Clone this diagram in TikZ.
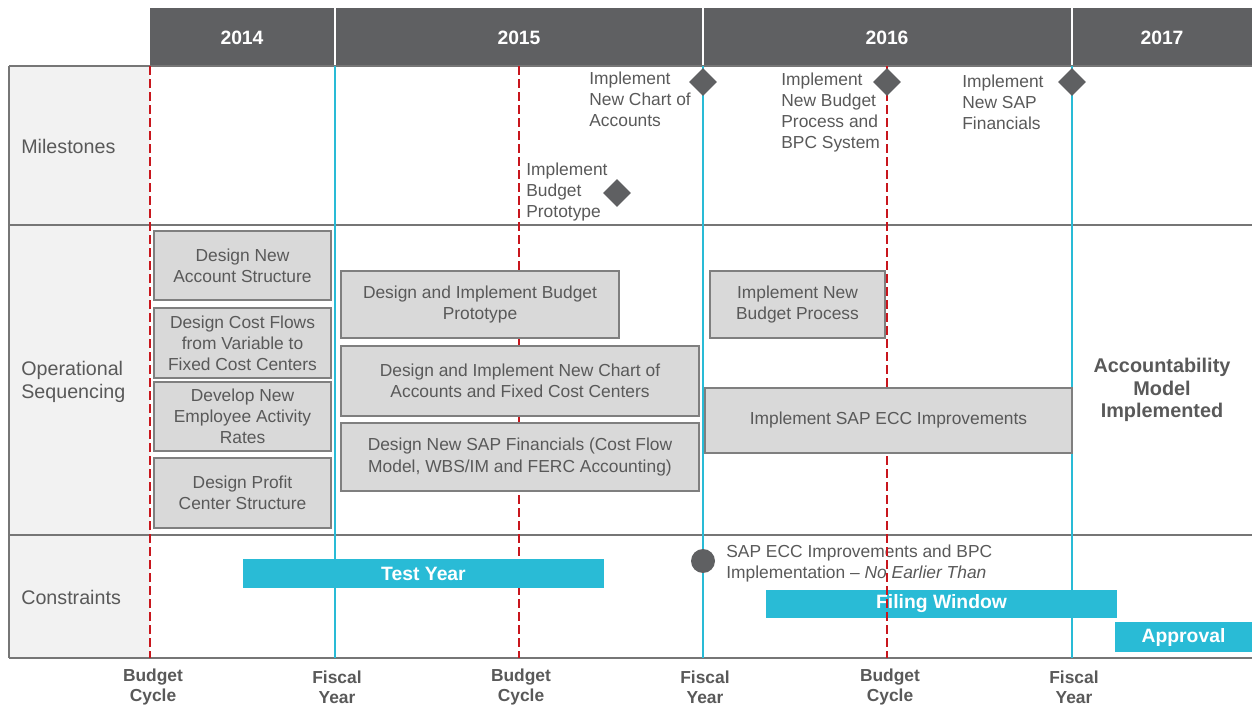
\documentclass[tikz,border=0pt]{standalone}
\usepackage{fontspec}
\setmainfont{Liberation Sans}
\usetikzlibrary{shapes.geometric}
\definecolor{hdr}{HTML}{5F6062}
\definecolor{txt}{HTML}{595959}
\definecolor{lab}{HTML}{F2F2F2}
\definecolor{rulec}{HTML}{767676}
\definecolor{bud}{HTML}{C8161D}
\definecolor{fis}{HTML}{29BBD6}
\definecolor{boxf}{HTML}{D9D9D9}
\definecolor{boxd}{HTML}{7F7F7F}
\tikzset{
  mtext/.style={text=txt, font=\fontsize{9.9}{12}\selectfont, align=left, inner sep=0pt, anchor=west},
  opbox/.style={draw=boxd, fill=boxf, line width=1pt, text=txt, font=\fontsize{9.9}{12}\selectfont, align=center, inner sep=0pt},
  bar/.style={fill=fis, text=white, font=\bfseries\fontsize{11}{13}\selectfont, inner sep=0pt},
  mile/.style={diamond, fill=hdr, minimum width=0.56cm, minimum height=0.56cm, inner sep=0pt},
  budget/.style={draw=bud, line width=1.1pt, dash pattern=on 5pt off 2.4pt},
  fiscal/.style={draw=fis, line width=0.9pt},
  rowlab/.style={text=txt, font=\fontsize{11.2}{13}\selectfont, align=left, anchor=west, inner sep=0pt},
  axlab/.style={text=txt, font=\bfseries\fontsize{9.9}{11.4}\selectfont, align=center, inner sep=0pt},
  yearlab/.style={text=white, font=\bfseries\fontsize{11}{13}\selectfont, inner sep=0pt},
  rulel/.style={draw=rulec, line width=0.9pt}
}
\begin{document}
\begin{tikzpicture}[x=0.02cm,y=-0.02cm]
\useasboundingbox (0,0) rectangle (1252,706);
% header
\fill[hdr] (150,8) rectangle (1252,66);
\foreach \x in {335,703,1072} \draw[white, line width=1pt] (\x,8) -- (\x,66);
\node[yearlab] (y14) at (242,38) {2014};
\node[yearlab] (y15) at (519,38) {2015};
\node[yearlab] (y16) at (887,38) {2016};
\node[yearlab] (y17) at (1162,38) {2017};
% label column
\fill[lab] (9,66) rectangle (150,658);
\draw[rulel] (9,66) -- (9,658);
\foreach \y in {66,225,535,658} \draw[rulel] (9,\y) -- (1252,\y);
\node[rowlab] (lm) at (21,146) {Milestones};
\node[rowlab] (lo) at (21,382) {Operational\\Sequencing};
\node[rowlab] (lc) at (21,597) {Constraints};
% time lines
\foreach \n/\x in {b1/150,b2/519,b3/887} {
  \coordinate (\n t) at (\x,66); \coordinate (\n b) at (\x,658);
}
\foreach \n/\x in {f1/335,f2/703,f3/1072} {
  \coordinate (\n t) at (\x,66); \coordinate (\n b) at (\x,658);
}
\draw[budget] (b1t) -- (b1b);
\draw[budget] (b2t) -- (b2b);
\draw[budget] (b3t) -- (b3b);
\draw[fiscal] (f1t) -- (f1b);
\draw[fiscal] (f2t) -- (f2b);
\draw[fiscal] (f3t) -- (f3b);
% milestones
\node[mtext] (m1) at (589,99) {Implement\\New Chart of\\Accounts};
\node[mtext] (m2) at (781,112.5) {Implement\\New Budget\\Process and\\BPC System};
\node[mtext] (m3) at (962,102) {Implement\\New SAP\\Financials};
\node[mtext] (m4) at (526,192) {Implement\\Budget\\Prototype};
% operational boxes
\node[opbox, minimum width=3.54cm, minimum height=1.38cm] (o1) at (242.5,265.5) {Design New\\Account Structure};
\node[opbox, minimum width=3.54cm, minimum height=1.40cm] (o2) at (242.5,343) {Design Cost Flows\\from Variable to\\Fixed Cost Centers};
\node[opbox, minimum width=3.54cm, minimum height=1.38cm] (o3) at (242.5,416.5) {Develop New\\Employee Activity\\Rates};
\node[opbox, minimum width=3.54cm, minimum height=1.40cm] (o4) at (242.5,493) {Design Profit\\Center Structure};
\node[opbox, minimum width=5.56cm, minimum height=1.34cm] (o5) at (480,304.5) {Design and Implement Budget\\Prototype};
\node[opbox, minimum width=7.16cm, minimum height=1.40cm] (o6) at (520,381) {Design and Implement New Chart of\\Accounts and Fixed Cost Centers};
\node[opbox, minimum width=7.16cm, minimum height=1.36cm] (o7) at (520,457) {Design New SAP Financials (Cost Flow\\Model, WBS/IM and FERC Accounting)};
\node[opbox, minimum width=3.50cm, minimum height=1.34cm] (o8) at (797.5,304.5) {Implement New\\Budget Process};
\node[opbox, minimum width=7.34cm, minimum height=1.30cm] (o9) at (888.5,420.5) {Implement SAP ECC Improvements};
\node[text=txt, font=\bfseries\fontsize{11.3}{13}\selectfont, align=center, inner sep=0pt] (acc) at (1162,390) {Accountability\\Model\\Implemented};
% constraints
\node[bar, minimum width=7.22cm, minimum height=0.58cm] (ty) at (423.5,573.5) {Test Year};
\node[bar, minimum width=7.02cm, minimum height=0.56cm] (fw) at (941.5,604) {Filing Window};
\node[bar, minimum width=2.74cm, minimum height=0.60cm] (ap) at (1183.5,637) {Approval};
\node[mtext] (nt) at (726,563.5) {SAP ECC Improvements and BPC\\Implementation – \textit{No Earlier Than}};
\begin{scope}
  \clip (878,537) rectangle (896,656);
  \draw[budget] (b3t) -- (b3b);
\end{scope}
% markers
\node[circle, fill=hdr, minimum size=0.48cm, inner sep=0pt] (ne) at (703,561) {};
\node[mile] (d1) at (703,82) {};
\node[mile] (d2) at (887,82) {};
\node[mile] (d3) at (1072,82) {};
\node[mile] (d4) at (617,193) {};
% axis labels
\node[axlab] (a1) at (153,687) {Budget\\Cycle};
\node[axlab] (a2) at (337,687) {Fiscal\\Year};
\node[axlab] (a3) at (521,687) {Budget\\Cycle};
\node[axlab] (a4) at (705,687) {Fiscal\\Year};
\node[axlab] (a5) at (890,687) {Budget\\Cycle};
\node[axlab] (a6) at (1074,687) {Fiscal\\Year};
\end{tikzpicture}
\end{document}
